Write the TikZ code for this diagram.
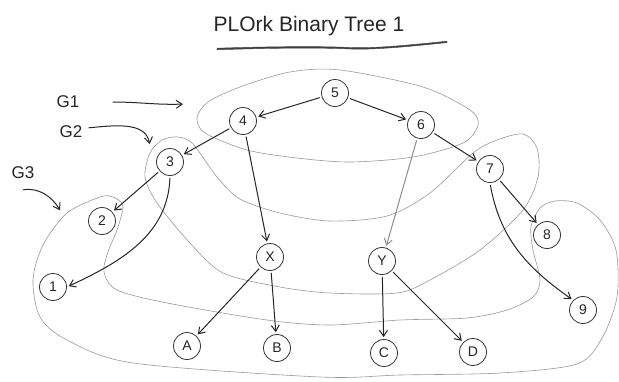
\documentclass[tikz,border=0pt]{standalone}
\usepackage{fontspec}
\setmainfont{Liberation Sans}
\usetikzlibrary{arrows.meta}
\begin{document}
\begin{tikzpicture}[x=1pt,y=-1pt,
  nd/.style={circle,draw=black!80,line width=0.8pt,minimum size=27pt,inner sep=0pt,font=\fontsize{14}{14}\selectfont,text=black!85},
  ed/.style={draw=black!85,line width=1pt,-{Straight Barb[length=6pt,width=8pt]},shorten >=2pt,shorten <=2pt},
  lighted/.style={ed,draw=black!45},
  grp/.style={draw=black!40,line width=0.6pt},
  lbl/.style={font=\fontsize{17}{17}\selectfont,text=black!85,inner sep=1pt},
  uline/.style={fill=black!75,draw=black!75,line width=0.4pt}]
\useasboundingbox (0,0) rectangle (619,381);
% title
\node[font=\fontsize{21}{21}\selectfont,text=black!85] (title) at (309,26) {PLOrk Binary Tree 1};
\path[uline] (217,48.2) .. controls (270,46.5) and (320,46) .. (350,47.5) .. controls (375,48.5) and (410,45) .. (447,41.2)
  -- (447,42.6) .. controls (410,46.4) and (375,50) .. (350,49) .. controls (320,47.5) and (270,48) .. (217,49.8) -- cycle;
% groups
\draw[grp] plot[smooth cycle] coordinates {(197,118) (208,102) (240,87) (290,72) (340,70) (423,87) (470,110) (478,125) (463,143) (413,157) (350,162) (297,158) (247,150) (205,133)};
\draw[grp] plot[smooth cycle] coordinates {(178,137) (193,144) (217,177) (240,199) (280,213) (330,221) (387,216) (430,193) (473,153) (497,140) (523,134) (537,148) (538,177) (523,210) (480,250) (430,280) (397,293) (330,293) (280,287) (223,273) (190,243) (157,203) (145,177) (150,153) (162,140)};
\draw[grp] plot[smooth cycle] coordinates {(100,197) (113,197) (123,206) (117,230) (108,252) (104,272) (117,290) (167,303) (267,320) (330,325) (400,320) (467,318) (507,310) (533,297) (540,280) (533,250) (531,227) (540,208) (555,201) (577,203) (600,220) (616,250) (617,297) (602,338) (577,364) (500,373) (400,375) (320,377) (133,363) (67,340) (40,317) (33,280) (43,245) (67,213)};
% nodes
\node[nd] (n5) at (335,93) {5};
\node[nd] (n4) at (243,121) {4};
\node[nd] (n6) at (421,125) {6};
\node[nd] (n3) at (170,162) {3};
\node[nd] (n7) at (490,169) {7};
\node[nd] (n2) at (102,221) {2};
\node[nd] (n8) at (547,235) {8};
\node[nd] (nX) at (270,257) {X};
\node[nd] (nY) at (382,261) {Y};
\node[nd] (n1) at (53,287) {1};
\node[nd] (n9) at (583,310) {9};
\node[nd] (nA) at (187,346) {A};
\node[nd] (nB) at (277,348) {B};
\node[nd] (nC) at (384,353) {C};
\node[nd] (nD) at (473,352) {D};
% labels
\node[lbl] (g1) at (68,102) {G1};
\node[lbl] (g2) at (71,132) {G2};
\node[lbl] (g3) at (23,173) {G3};
\coordinate (g1t) at (185,104);
\coordinate (g2t) at (150,146);
\coordinate (g3t) at (61,212);
\draw[ed] (g1.east) ++(30,0) coordinate (g1s) to[out=0,in=182] (g1t);
\draw[ed] (g2.east) ++(3,-4) coordinate (g2s) to[out=5,in=100] (g2t);
\draw[ed] (g3.south) ++(-2,10) coordinate (g3s) to[out=10,in=120] (g3t);
% edges
\draw[ed] (n5) -- (n4);
\draw[ed] (n5) -- (n6);
\draw[ed] (n4) -- (n3);
\draw[ed] (n4) -- (nX);
\draw[lighted] (n6) -- (nY);
\draw[ed] (n6) -- (n7);
\draw[ed] (n3) -- (n2);
\draw[ed] (n3.south) to[out=-92,in=25] (n1.east);
\draw[ed] (n7) -- (n8);
\draw[ed] (n7.south) to[out=-80,in=145] (n9.north west);
\draw[ed] (nX) -- (nA);
\draw[ed] (nX) -- (nB);
\draw[ed] (nY) -- (nC);
\draw[ed] (nY) -- (nD);
\end{tikzpicture}
\end{document}
